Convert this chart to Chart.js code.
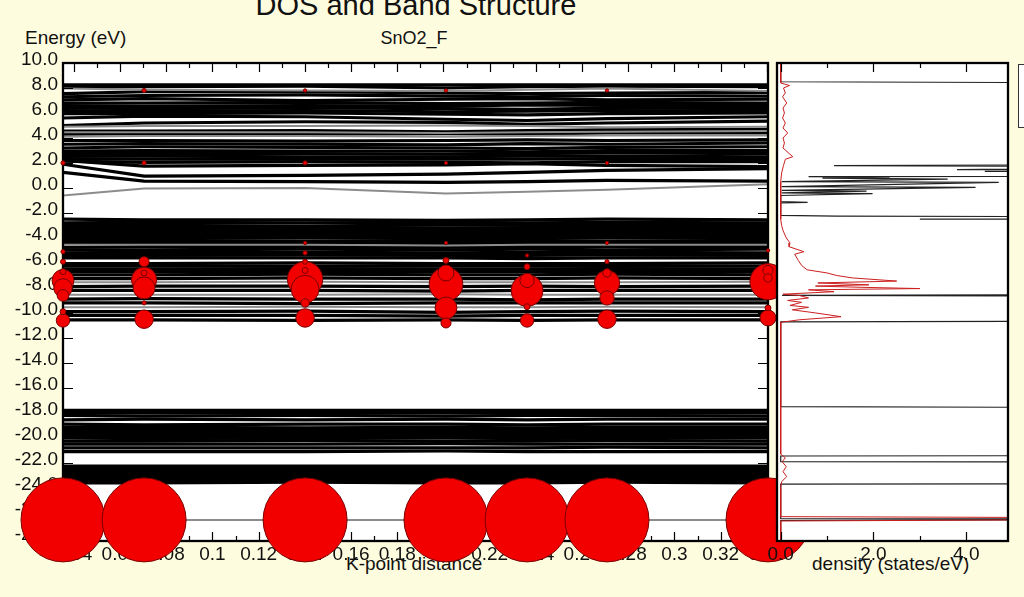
<!DOCTYPE html>
<html>
<head>
<meta charset="utf-8">
<title>DOS and Band Structure</title>
<script src="https://cdn.jsdelivr.net/npm/chart.js@4.4.1/dist/chart.umd.min.js"></script>
<style>
  html, body { margin: 0; padding: 0; }
  body {
    width: 1024px; height: 597px; position: relative; overflow: hidden;
    background: #fefcdf; color: #111;
    font-family: "Liberation Sans", Arial, sans-serif;
  }
  canvas { position: absolute; left: 0; top: 0; }
  .txt { position: absolute; white-space: nowrap; }
  #legendBox { position: absolute; left: 1018px; top: 64px; width: 20px; height: 62px; background: #fff; border: 1px solid #333; }
</style>
</head>
<body>
<div class="txt" style="left:0;width:832px;text-align:center;top:-9px;font-size:29px;line-height:29px;">DOS and Band Structure</div>
<div class="txt" style="left:314px;width:200px;text-align:center;top:29px;font-size:18px;line-height:18px;">SnO2_F</div>
<div class="txt" style="left:25px;top:28px;font-size:19px;line-height:19px;">Energy (eV)</div>
<div class="txt" style="left:346px;top:554px;font-size:19px;line-height:19px;">K-point distance</div>
<div class="txt" style="left:812px;top:554px;font-size:19px;line-height:19px;">density (states/eV)</div>
<div id="legendBox"></div>
<canvas id="bandChart" width="1024" height="597"></canvas>
<canvas id="dosChart" width="1024" height="597"></canvas>
<script>
// ---- data ----
const kPoints = [0.0353, 0.0704, 0.1401, 0.2011, 0.2362, 0.2708, 0.3405];
const kTicks = [0.04, 0.05, 0.06, 0.07, 0.08, 0.09, 0.1, 0.11, 0.12, 0.13, 0.14, 0.15, 0.16, 0.17, 0.18,
                0.19, 0.2, 0.21, 0.22, 0.23, 0.24, 0.25, 0.26, 0.27, 0.28, 0.29, 0.3, 0.31, 0.32, 0.33, 0.34];
const energyTicks = [-28, -26, -24, -22, -20, -18, -16, -14, -12, -10, -8, -6, -4, -2, 0, 2, 4, 6, 8, 10];
const dosTicks = [0, 1, 2, 3, 4];

// band energies (eV) at each k-point
const conductionBands = [
    [8.25, 8.25, 8.25, 8.25, 8.25, 8.25, 8.25],
    [8.05, 8.1, 8.15, 8.0, 8.1, 8.15, 8.1],
    [7.55, 7.7, 7.7, 7.6, 7.55, 7.6, 7.65],
    [7.3, 7.4, 7.45, 7.35, 7.3, 7.4, 7.35],
    [7.05, 7.15, 7.0, 7.1, 7.15, 7.05, 7.1],
    [6.8, 6.8, 6.85, 6.75, 6.8, 6.85, 6.8],
    [6.6, 6.55, 6.6, 6.55, 6.65, 6.6, 6.6],
    [6.4, 6.35, 6.4, 6.35, 6.3, 6.4, 6.35],
    [6.2, 6.15, 6.2, 6.1, 6.15, 6.2, 6.15],
    [5.95, 5.95, 6.0, 5.9, 5.85, 5.95, 6.0],
    [5.6, 5.75, 5.7, 5.5, 5.4, 5.55, 5.7],
    [5.0, 5.2, 5.3, 5.25, 5.1, 5.2, 5.35],
    [4.55, 4.55, 4.6, 4.5, 4.6, 4.65, 4.7],
    [4.3, 4.35, 4.3, 4.35, 4.3, 4.4, 4.4],
    [3.8, 3.8, 3.75, 3.8, 3.85, 3.8, 3.85],
    [3.5, 3.55, 3.5, 3.45, 3.55, 3.5, 3.6],
    [3.2, 3.3, 3.25, 3.2, 3.15, 3.25, 3.3],
    [2.95, 3.0, 2.95, 2.95, 2.9, 3.0, 3.0],
    [2.75, 2.75, 2.75, 2.7, 2.75, 2.8, 2.75],
    [2.55, 2.55, 2.5, 2.5, 2.55, 2.55, 2.5],
    [2.35, 2.3, 2.3, 2.3, 2.3, 2.35, 2.3],
    [2.15, 2.05, 2.1, 2.05, 2.0, 2.1, 2.1],
    [2.2, 1.75, 1.8, 1.85, 1.95, 1.8, 1.7]
];
const gapBands = [
    [1.9, 0.95, 1.0, 1.1, 1.25, 1.4, 1.55],
    [1.25, 0.55, 0.5, 0.45, 0.5, 0.6, 0.55]
];
const valenceBands = [
    [-2.5, -2.55, -2.55, -2.6, -2.55, -2.5, -2.55],
    [-2.8, -2.75, -2.8, -2.75, -2.8, -2.75, -2.8],
    [-3.0, -3.0, -3.05, -2.95, -3.0, -3.0, -3.0],
    [-3.2, -3.2, -3.2, -3.2, -3.2, -3.2, -3.2],
    [-3.4, -3.4, -3.4, -3.4, -3.4, -3.4, -3.4],
    [-3.6, -3.6, -3.6, -3.6, -3.6, -3.6, -3.6],
    [-3.8, -3.8, -3.8, -3.8, -3.8, -3.8, -3.8],
    [-4.0, -4.0, -4.0, -4.0, -4.0, -4.0, -4.0],
    [-4.2, -4.2, -4.25, -4.2, -4.2, -4.25, -4.2],
    [-4.4, -4.4, -4.35, -4.45, -4.4, -4.4, -4.4],
    [-4.75, -4.7, -4.7, -4.75, -4.65, -4.7, -4.7],
    [-4.95, -4.95, -4.9, -4.95, -4.9, -4.95, -4.9],
    [-5.2, -5.15, -5.15, -5.2, -5.15, -5.15, -5.2],
    [-5.4, -5.4, -5.35, -5.4, -5.4, -5.35, -5.4],
    [-5.6, -5.6, -5.6, -5.6, -5.65, -5.6, -5.6],
    [-6.05, -6.05, -6.0, -6.05, -6.05, -6.05, -6.0],
    [-6.25, -6.25, -6.25, -6.25, -6.25, -6.25, -6.25],
    [-6.5, -6.5, -6.45, -6.5, -6.5, -6.45, -6.5],
    [-6.7, -6.7, -6.7, -6.7, -6.7, -6.7, -6.7],
    [-6.95, -6.95, -6.9, -6.95, -6.95, -6.9, -6.95],
    [-7.25, -7.25, -7.2, -7.25, -7.25, -7.2, -7.25],
    [-7.9, -7.85, -7.85, -7.9, -7.85, -7.9, -7.85],
    [-8.2, -8.2, -8.2, -8.25, -8.2, -8.2, -8.2],
    [-8.9, -8.85, -8.9, -8.9, -8.95, -8.9, -8.9],
    [-9.2, -9.2, -9.25, -9.2, -9.2, -9.2, -9.2],
    [-9.9, -9.9, -9.85, -9.95, -9.9, -9.85, -9.9],
    [-10.2, -10.2, -10.2, -10.25, -10.2, -10.2, -10.2],
    [-10.55, -10.55, -10.6, -10.55, -10.6, -10.55, -10.55]
];
const semicoreBands = [
    [-17.8, -17.8, -17.8, -17.8, -17.8, -17.8, -17.8],
    [-18.0, -18.0, -18.0, -18.0, -18.0, -18.0, -18.0],
    [-18.2, -18.25, -18.2, -18.25, -18.2, -18.2, -18.25],
    [-18.55, -18.5, -18.55, -18.5, -18.55, -18.5, -18.5],
    [-18.9, -18.95, -18.9, -18.9, -18.95, -18.9, -18.9],
    [-19.15, -19.15, -19.2, -19.15, -19.2, -19.15, -19.15],
    [-19.4, -19.4, -19.4, -19.4, -19.4, -19.4, -19.4],
    [-19.6, -19.6, -19.6, -19.6, -19.6, -19.6, -19.6],
    [-19.8, -19.8, -19.8, -19.8, -19.8, -19.8, -19.8],
    [-20.0, -20.05, -20.0, -20.0, -20.05, -20.0, -20.0],
    [-20.25, -20.25, -20.2, -20.25, -20.25, -20.2, -20.25],
    [-20.5, -20.5, -20.5, -20.45, -20.5, -20.5, -20.5],
    [-20.8, -20.8, -20.8, -20.8, -20.8, -20.75, -20.8],
    [-21.1, -21.1, -21.1, -21.05, -21.1, -21.1, -21.1],
    [-22.25, -22.25, -22.25, -22.25, -22.25, -22.25, -22.25],
    [-22.45, -22.45, -22.45, -22.45, -22.45, -22.45, -22.45],
    [-22.65, -22.65, -22.65, -22.65, -22.65, -22.65, -22.65],
    [-22.85, -22.85, -22.85, -22.85, -22.85, -22.85, -22.85],
    [-23.05, -23.05, -23.05, -23.05, -23.05, -23.05, -23.05],
    [-23.25, -23.25, -23.25, -23.25, -23.25, -23.25, -23.25],
    [-23.45, -23.45, -23.45, -23.45, -23.45, -23.45, -23.45],
    [-23.6, -23.6, -23.55, -23.6, -23.6, -23.55, -23.6]
];
const weakBands = [
    [7.95, 7.85, 7.8, 7.75, 7.85, 7.95, 7.75],
    [4.9, 4.95, 4.95, 5.0, 4.95, 4.85, 4.9],
    [4.45, 4.45, 4.45, 4.4, 4.45, 4.5, 4.55],
    [4.1, 4.15, 4.15, 4.1, 4.15, 4.2, 4.2],
    [-0.6, -0.05, 0.0, -0.45, -0.3, -0.15, 0.3],
    [-4.55, -4.55, -4.55, -4.6, -4.55, -4.55, -4.55],
    [-7.55, -7.55, -7.5, -7.55, -7.55, -7.55, -7.5],
    [-8.55, -8.55, -8.55, -8.5, -8.55, -8.55, -8.55],
    [-9.55, -9.55, -9.5, -9.55, -9.55, -9.5, -9.55],
    [-26.56, -26.56, -26.56, -26.56, -26.56, -26.56, -26.56]
];

// F projected weight at each k-point: [energy, weight]
const fWeights = [
    [[2.0, 0.05], [-5.1, 0.05], [-5.9, 0.06], [-6.7, 0.07], [-7.4, 0.26], [-8.0, 0.22], [-8.6, 0.14], [-9.9, 0.07], [-10.6, 0.16], [-26.56, 1.0]],
    [[7.8, 0.05], [2.0, 0.05], [-5.9, 0.12], [-6.8, 0.07], [-7.35, 0.3], [-8.0, 0.26], [-9.2, 0.05], [-10.5, 0.22], [-26.56, 1.0]],
    [[7.8, 0.04], [2.0, 0.05], [-4.4, 0.04], [-5.2, 0.05], [-5.9, 0.06], [-6.6, 0.07], [-7.3, 0.42], [-8.1, 0.33], [-9.2, 0.1], [-10.4, 0.22], [-26.56, 1.0]],
    [[7.8, 0.04], [2.0, 0.04], [-4.4, 0.04], [-5.8, 0.07], [-6.8, 0.19], [-7.7, 0.4], [-9.6, 0.26], [-10.8, 0.12], [-26.56, 1.0]],
    [[-5.4, 0.04], [-6.3, 0.07], [-7.4, 0.17], [-8.2, 0.38], [-9.5, 0.07], [-10.6, 0.16], [-26.56, 1.0]],
    [[7.8, 0.04], [2.0, 0.04], [-4.4, 0.04], [-5.9, 0.05], [-6.8, 0.1], [-7.6, 0.3], [-8.8, 0.17], [-10.5, 0.22], [-26.56, 1.0]],
    [[-5.0, 0.04], [-6.6, 0.12], [-7.2, 0.1], [-7.5, 0.43], [-9.6, 0.07], [-10.4, 0.19], [-26.56, 1.0]]
];

// density of states: [energy, states/eV]
const totalDos = [
    [10, 0], [8.5, 0], [8.35, 12], [1.9, 12], [1.78, 1.15], [1.7, 12], [1.47, 3.8], [1.42, 12],
    [1.32, 4.4], [1.27, 12], [0.95, 12], [0.9, 0.6], [0.86, 2.35], [0.78, 0.9], [0.7, 3.6],
    [0.5, 0.02], [0.45, 4.7], [0.1, 0.02], [0.05, 4.2], [-0.2, 0.02], [-0.25, 1.85], [-0.4, 0.02],
    [-0.45, 1.98], [-0.6, 0], [-1.1, 0], [-1.15, 0.58], [-1.2, 0], [-2.2, 0], [-2.25, 1.2],
    [-2.35, 12], [-2.5, 3.0], [-2.6, 12], [-8.5, 12], [-8.6, 0.03], [-8.7, 12], [-10.6, 12],
    [-10.72, 0], [-17.5, 0], [-17.62, 12], [-21.4, 12], [-21.45, 0], [-21.9, 0], [-21.95, 12],
    [-23.65, 12], [-23.7, 0], [-26.45, 0], [-26.52, 12], [-26.6, 0], [-28.3, 0]
];
const fDos = [
    [10, 0], [8.4, 0], [8.2, 0.19], [8.0, 0.06], [7.6, 0.1], [7.3, 0.04], [6.8, 0.13], [6.4, 0.05],
    [6.0, 0.08], [5.6, 0.04], [5.2, 0.1], [4.8, 0.05], [4.4, 0.15], [4.0, 0.05], [3.6, 0.08],
    [3.2, 0.05], [2.5, 0.26], [2.3, 0.1], [1.8, 0.06], [1.2, 0.02], [0.5, 0], [-2.5, 0],
    [-3.0, 0.02], [-3.4, 0.05], [-4.0, 0.12], [-4.4, 0.2], [-4.7, 0.18], [-5.1, 0.5], [-5.3, 0.3],
    [-5.8, 0.38], [-6.2, 0.45], [-6.55, 0.57], [-6.8, 1.0], [-7.0, 1.2], [-7.2, 1.55], [-7.45, 2.5],
    [-7.6, 0.8], [-7.75, 1.9], [-7.85, 0.75], [-7.95, 1.75], [-8.05, 3.0], [-8.15, 0.6], [-8.3, 1.15],
    [-8.5, 0.05], [-8.6, 0.4], [-8.8, 0.6], [-9.0, 0.15], [-9.15, 0.45], [-9.4, 0.2], [-9.55, 0.6],
    [-9.75, 0.25], [-10.0, 0.75], [-10.3, 1.3], [-10.55, 0.4], [-10.75, 0], [-21.3, 0], [-21.6, 0.1],
    [-21.9, 0.03], [-22.3, 0.12], [-22.7, 0.05], [-23.1, 0.13], [-23.5, 0.02], [-24, 0], [-26.3, 0],
    [-26.45, 12], [-26.65, 0], [-28.3, 0]
];

// ---- chart setup ----
const FONT = '"Liberation Sans", Arial, sans-serif';
const MAX_RADIUS = 42;
Chart.defaults.font.family = FONT;
Chart.defaults.font.size = 19;
Chart.defaults.color = '#111';

function fmtK(v) {
    const even = Math.abs(v * 50 - Math.round(v * 50)) < 1e-6;
    return even ? String(parseFloat(v.toFixed(2))) : '';
}

// white plot area, inward tick marks and a black frame
const framePlugin = {
    id: 'frame',
    beforeDraw(chart) {
        const { ctx, chartArea: a } = chart;
        ctx.save();
        ctx.fillStyle = '#fff';
        ctx.fillRect(a.left, a.top, a.right - a.left, a.bottom - a.top);
        ctx.restore();
    },
    beforeDatasetDraw(chart, args, opts) {
        if (opts.under && args.meta.type === opts.under) drawFrame(chart);
    },
    afterDatasetsDraw(chart, args, opts) {
        if (!opts.under) drawFrame(chart);
    }
};

function drawFrame(chart) {
    const { ctx, chartArea: a, scales } = chart;
    ctx.save();
    ctx.strokeStyle = '#000';
    ctx.lineWidth = 1.2;
    ctx.beginPath();
    scales.x.ticks.forEach(t => {
        const px = Math.round(scales.x.getPixelForValue(t.value)) + 0.5;
        const len = t.label ? 9 : 5;
        ctx.moveTo(px, a.top); ctx.lineTo(px, a.top + len);
        ctx.moveTo(px, a.bottom); ctx.lineTo(px, a.bottom - len);
    });
    if (scales.y.options.display) {
        scales.y.ticks.forEach(t => {
            const py = Math.round(scales.y.getPixelForValue(t.value)) + 0.5;
            ctx.moveTo(a.left, py); ctx.lineTo(a.left + 10, py);
            ctx.moveTo(a.right, py); ctx.lineTo(a.right - 10, py);
        });
    }
    ctx.stroke();
    ctx.lineWidth = 2.3;
    ctx.strokeRect(a.left, a.top, a.right - a.left, a.bottom - a.top);
    ctx.restore();
}

function bandDataset(row, color, width) {
    return {
        data: row.map((e, i) => ({ x: kPoints[i], y: e })),
        showLine: true,
        borderColor: color,
        borderWidth: width,
        pointRadius: 0,
        tension: 0
    };
}

const bandSets = [];
weakBands.forEach(r => bandSets.push(bandDataset(r, '#8c8c8c', 2)));
[conductionBands, gapBands, valenceBands, semicoreBands].forEach(group =>
    group.forEach(r => bandSets.push(bandDataset(r, '#000', 3.2))));

const bubbles = [];
fWeights.forEach((list, i) => list.forEach(([e, w]) =>
    bubbles.push({ x: kPoints[i], y: e, r: w * MAX_RADIUS })));
bubbles.sort((p, q) => q.r - p.r);

bandSets.push({
    type: 'bubble',
    label: 'F',
    data: bubbles,
    backgroundColor: '#f20000',
    borderColor: '#7a0000',
    borderWidth: 1,
    clip: false,
    order: -1
});

new Chart(document.getElementById('bandChart'), {
    type: 'scatter',
    data: { datasets: bandSets },
    options: {
        responsive: false,
        animation: false,
        events: [],
        layout: { padding: { left: 0, right: 256, top: 63, bottom: 0 } },
        plugins: {
            legend: { display: false },
            tooltip: { enabled: false },
            frame: { under: 'bubble' }
        },
        scales: {
            x: {
                type: 'linear',
                bounds: 'data',
                min: kPoints[0],
                max: kPoints[kPoints.length - 1],
                afterBuildTicks: s => { s.ticks = kTicks.map(v => ({ value: v })); },
                afterFit: s => { s.height = 56; },
                grid: { display: false, drawTicks: false },
                border: { display: false },
                ticks: { autoSkip: false, maxRotation: 0, padding: 2, callback: v => fmtK(v) }
            },
            y: {
                type: 'linear',
                bounds: 'data',
                min: -28.25,
                max: 10,
                afterBuildTicks: s => { s.ticks = energyTicks.map(v => ({ value: v })); },
                afterFit: s => { s.width = 63; },
                grid: { display: false, drawTicks: false },
                border: { display: false },
                ticks: { autoSkip: false, padding: 5, labelOffset: -3, callback: v => v.toFixed(1) }
            }
        }
    },
    plugins: [framePlugin]
});

new Chart(document.getElementById('dosChart'), {
    type: 'scatter',
    data: {
        datasets: [
            {
                label: 'F',
                data: fDos.map(([e, d]) => ({ x: d, y: e })),
                showLine: true, borderColor: '#cc1f1f', borderWidth: 1, pointRadius: 0
            },
            {
                label: 'total',
                data: totalDos.map(([e, d]) => ({ x: d, y: e })),
                showLine: true, borderColor: '#222', borderWidth: 1.2, pointRadius: 0
            }
        ]
    },
    options: {
        responsive: false,
        animation: false,
        events: [],
        layout: { padding: { left: 777, right: 16, top: 63, bottom: 0 } },
        plugins: { legend: { display: false }, tooltip: { enabled: false } },
        scales: {
            x: {
                type: 'linear',
                bounds: 'data',
                min: -0.08,
                max: 4.9,
                afterBuildTicks: s => { s.ticks = dosTicks.map(v => ({ value: v })); },
                afterFit: s => { s.height = 56; },
                grid: { display: false, drawTicks: false },
                border: { display: false },
                ticks: { autoSkip: false, maxRotation: 0, padding: 2, callback: v => (v % 2 === 0 ? v.toFixed(1) : '') }
            },
            y: {
                type: 'linear',
                display: false,
                bounds: 'data',
                min: -28.25,
                max: 10
            }
        }
    },
    plugins: [framePlugin]
});
</script>
</body>
</html>
